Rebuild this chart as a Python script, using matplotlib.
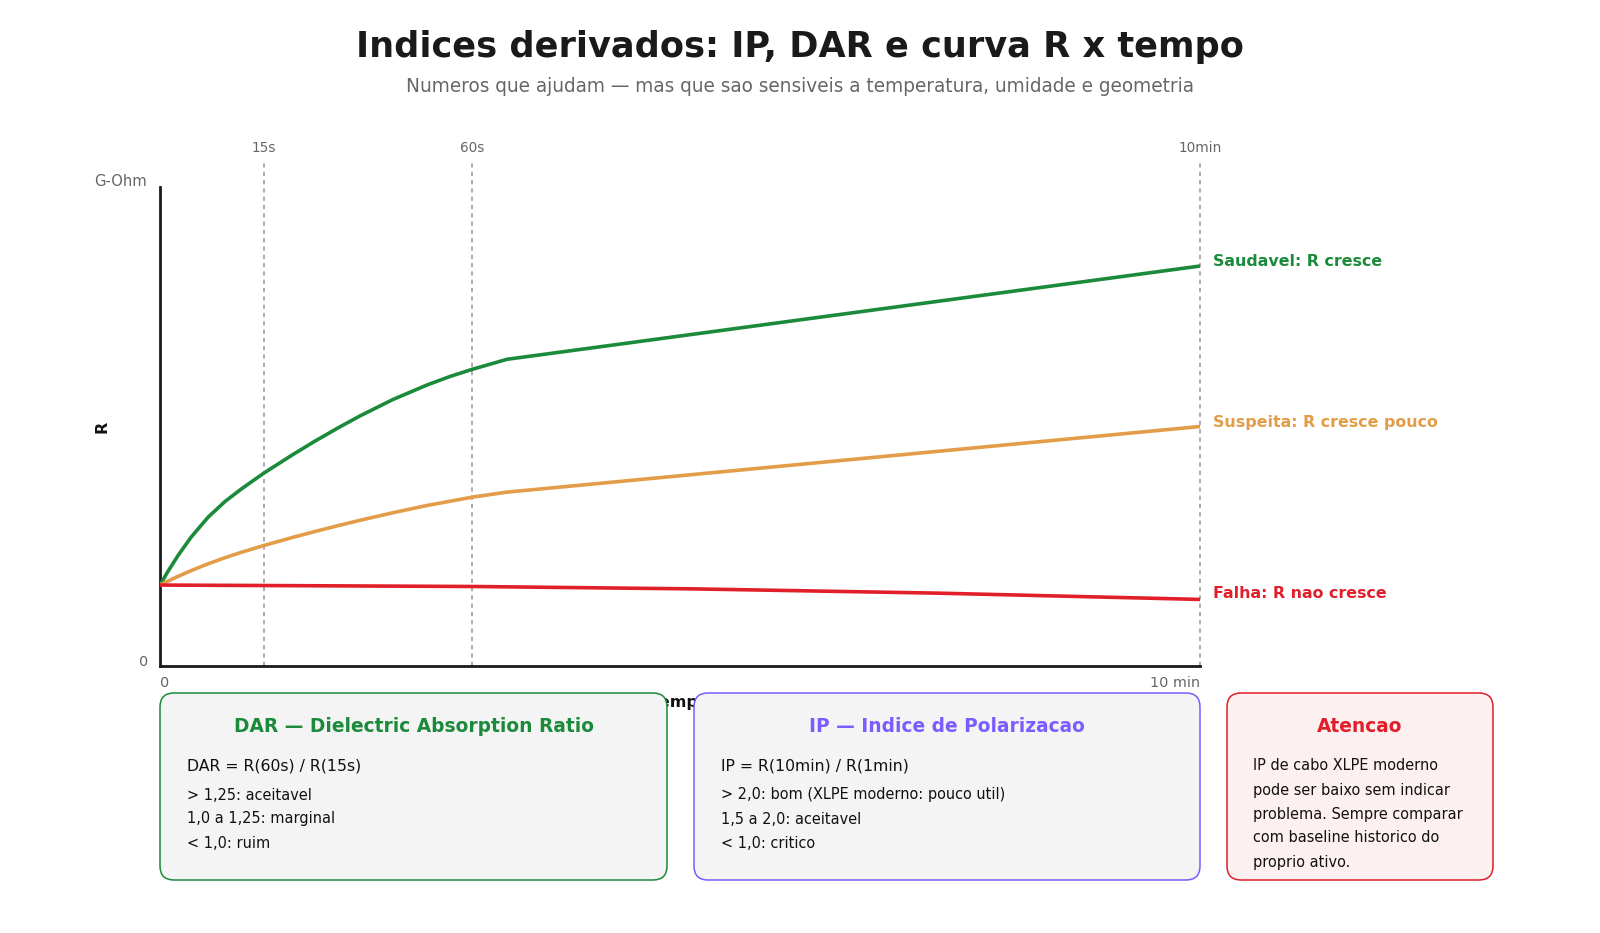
import matplotlib
matplotlib.use("Agg")
import matplotlib.pyplot as plt
from matplotlib.patches import FancyBboxPatch

plt.rcParams['font.family'] = ['DejaVu Sans']

# ---------------- data ----------------
# x positions on a schematic (non-linear) time axis: 0 .. 10 (15s at 1, 60s at 3, 10 min at 10)
marker_pos = [1, 3, 10]
marker_labels = ["15s", "60s", "10min"]

x_saudavel = [0, 0.077, 0.173, 0.298, 0.462, 0.625, 0.779, 1.0, 1.26, 1.481, 1.712, 1.923,
              2.24, 2.567, 2.788, 3.0, 3.337, 10]
y_saudavel = [16.9, 19.77, 23.05, 26.87, 31.06, 34.34, 36.91, 40.29, 43.9, 46.83, 49.71, 52.21,
              55.64, 58.66, 60.44, 61.92, 64.03, 83.5]

x_suspeita = [0, 0.077, 0.173, 0.298, 0.462, 0.625, 0.779, 1.0, 1.26, 1.481, 1.712, 1.923,
              2.24, 2.567, 3.0, 3.337, 10]
y_suspeita = [16.9, 17.73, 18.71, 19.9, 21.33, 22.61, 23.72, 25.16, 26.75, 28.03, 29.3, 30.42,
              32.0, 33.51, 35.24, 36.3, 50.0]

x_falha = [0, 3.0, 5.13, 7.5, 10]
y_falha = [16.9, 16.6, 16.1, 15.2, 13.9]

series_labels = ["Saudavel: R cresce", "Suspeita: R cresce pouco", "Falha: R nao cresce"]
series_colors = ["#1b8a3a", "#e39d48", "#e01f2a"]

dar_title = "DAR \u2014 Dielectric Absorption Ratio"
dar_formula = "DAR = R(60s) / R(15s)"
dar_lines = ["> 1,25: aceitavel", "1,0 a 1,25: marginal", "< 1,0: ruim"]

ip_title = "IP \u2014 Indice de Polarizacao"
ip_formula = "IP = R(10min) / R(1min)"
ip_lines = ["> 2,0: bom (XLPE moderno: pouco util)", "1,5 a 2,0: aceitavel", "< 1,0: critico"]

att_title = "Atencao"
att_lines = ["IP de cabo XLPE moderno", "pode ser baixo sem indicar",
             "problema. Sempre comparar", "com baseline historico do", "proprio ativo."]

# ---------------- figure ----------------
W, H = 1600, 933
fig = plt.figure(figsize=(W / 100, H / 100), dpi=100)
fig.patch.set_facecolor("white")

def fx(px):
    return px / W

def fy(py):
    return 1 - py / H

# title
fig.text(fx(800), fy(47), "Indices derivados: IP, DAR e curva R x tempo",
         ha="center", va="center", fontsize=25.3, fontweight="bold", color="#1a1a1a")
fig.text(fx(800), fy(87), "Numeros que ajudam \u2014 mas que sao sensiveis a temperatura, umidade e geometria",
         ha="center", va="center", fontsize=13.35, color="#666666")

# main axes: px x 160..1200, y 187..666
ax = fig.add_axes([fx(160), fy(666), 1040 / W, 479 / H])
ax.set_xlim(0, 10)
ax.set_ylim(0, 100)
for s in ["top", "right"]:
    ax.spines[s].set_visible(False)
for s in ["left", "bottom"]:
    ax.spines[s].set_color("#1a1a1a")
    ax.spines[s].set_linewidth(2)
ax.set_xticks([])
ax.set_yticks([])
ax.patch.set_alpha(0)

ytop_line = (666 - 160) / 4.79
ylab = (666 - 148) / 4.79
for xp, lab in zip(marker_pos, marker_labels):
    ax.plot([xp, xp], [0, ytop_line], color="#a6a6a6", lw=1.3, ls=(0, (2.4, 2.2)), clip_on=False, zorder=1)
    ax.text(xp, ylab, lab, ha="center", va="center", fontsize=9.8, color="#666666", clip_on=False)

ax.plot(x_saudavel, y_saudavel, color=series_colors[0], lw=2.6, zorder=3,
        solid_capstyle="round", solid_joinstyle="round")
ax.plot(x_suspeita, y_suspeita, color=series_colors[1], lw=2.6, zorder=3,
        solid_capstyle="round", solid_joinstyle="round")
ax.plot(x_falha, y_falha, color=series_colors[2], lw=2.6, zorder=4,
        solid_capstyle="round", solid_joinstyle="round")

xtxt = 10 + 13 / 104
ax.text(xtxt, (666 - 262) / 4.79, series_labels[0], color=series_colors[0], fontsize=11.4,
        fontweight="bold", ha="left", va="center", clip_on=False)
ax.text(xtxt, (666 - 422) / 4.79, series_labels[1], color=series_colors[1], fontsize=11.4,
        fontweight="bold", ha="left", va="center", clip_on=False)
ax.text(xtxt, (666 - 594) / 4.79, series_labels[2], color=series_colors[2], fontsize=11.4,
        fontweight="bold", ha="left", va="center", clip_on=False)

# axis labels
fig.text(fx(147), fy(182), "G-Ohm", ha="right", va="center", fontsize=10.6, color="#666666")
fig.text(fx(148), fy(662), "0", ha="right", va="center", fontsize=10.4, color="#666666")
fig.text(fx(160), fy(683), "0", ha="left", va="center", fontsize=10.4, color="#666666")
fig.text(fx(1200), fy(683), "10 min", ha="right", va="center", fontsize=10.4, color="#666666")
fig.text(fx(102), fy(427), "R", ha="center", va="center", rotation=90, fontsize=11.5,
         fontweight="bold", color="#111111")
ax.text(0.5, (666 - 702) / 479, "Tempo", transform=ax.transAxes, ha="center", va="center",
        fontsize=11.5, fontweight="bold", color="#111111", clip_on=False)

# overlay axes for boxes (pixel coordinates)
ov = fig.add_axes([0, 0, 1, 1], zorder=5)
ov.set_xlim(0, W)
ov.set_ylim(H, 0)
ov.axis("off")
ov.patch.set_alpha(0)

def box(x0, x1, y0, y1, fc, ec):
    p = FancyBboxPatch((x0, y0), x1 - x0, y1 - y0,
                       boxstyle="round,pad=0,rounding_size=14",
                       fc=fc, ec=ec, lw=1.1)
    ov.add_patch(p)

def info_box(x0, x1, title, color, formula, lines):
    box(x0, x1, 693, 880, "#f4f4f4", color)
    ov.text((x0 + x1) / 2, 727, title, ha="center", va="center", fontsize=13.4,
            fontweight="bold", color=color)
    ov.text(x0 + 27, 766, formula, ha="left", va="center", fontsize=11.3, color="#111111")
    for i, ln in enumerate(lines):
        ov.text(x0 + 27, 795 + i * 24, ln, ha="left", va="center", fontsize=10.45, color="#111111")

info_box(160, 667, dar_title, "#1b8a3a", dar_formula, dar_lines)
info_box(694, 1200, ip_title, "#7b5cff", ip_formula, ip_lines)

box(1227, 1493, 693, 880, "#fdf0f0", "#e01f2a")
ov.text(1360, 727, att_title, ha="center", va="center", fontsize=13.4, fontweight="bold",
        color="#e01f2a")
for i, ln in enumerate(att_lines):
    ov.text(1253, 766 + i * 24, ln, ha="left", va="center", fontsize=10.45, color="#111111")

fig.savefig("out.png", dpi=100, facecolor="white")
